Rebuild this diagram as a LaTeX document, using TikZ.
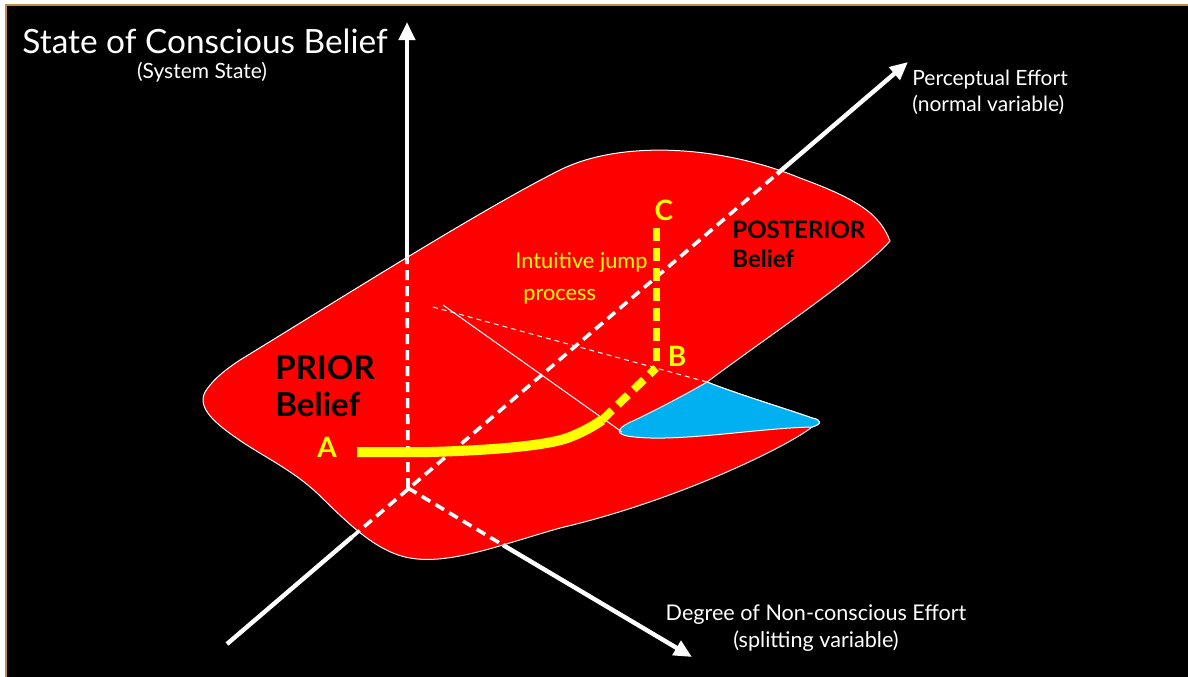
\documentclass[tikz,border=0pt]{standalone}
\usepackage{fontspec}
\setmainfont{Lato}
\usetikzlibrary{arrows.meta}
\definecolor{sheetred}{RGB}{255,0,0}
\definecolor{foldblue}{RGB}{0,176,240}
\definecolor{jumpyellow}{RGB}{255,255,0}
\definecolor{frameline}{RGB}{190,140,70}

\begin{document}
\begin{tikzpicture}[x=0.5pt,y=-0.5pt,>={Triangle[length=9pt,width=8pt]},
  axis/.style={white,line width=2.2pt},
  axisdash/.style={white,line width=1.8pt,dash pattern=on 5pt off 3pt},
  guide/.style={white,line width=0.5pt},
  axislabel/.style={white,font=\fontsize{10.5}{13}\selectfont,align=center},
  pointlabel/.style={jumpyellow,font=\bfseries\fontsize{14}{16}\selectfont},
  belief/.style={black,font=\bfseries\fontsize{16.5}{18.5}\selectfont,align=left,anchor=north west,inner sep=0pt}]
  \useasboundingbox (0,0) rectangle (1188,676);
  % frame
  \fill[white] (0,0) rectangle (1188,676);
  \filldraw[fill=black,draw=frameline,line width=0.8pt] (6,5) rectangle (1195,685);

  % axis points
  \coordinate (O) at (408,488);
  \coordinate (state) at (407,22);
  \coordinate (sTop) at (407,258);
  \coordinate (tail) at (227,644);
  \coordinate (pLow) at (352,537);
  \coordinate (pTop) at (777,174);
  \coordinate (perc) at (908,62);
  \coordinate (sEdge) at (503,545);
  \coordinate (split) at (692,657);

  % cusp surface
  \filldraw[fill=sheetred,draw=white,line width=0.5pt]
    (890,241) .. controls (860,275) and (770,335) .. (707,382)
    .. controls (740,395) and (790,410) .. (812,418)
    .. controls (822,420) and (822,424) .. (812,427)
    .. controls (790,445) and (680,500) .. (560,528)
    .. controls (500,545) and (450,565) .. (410,558)
    .. controls (375,552) and (345,520) .. (317,493)
    .. controls (290,468) and (260,455) .. (235,437)
    .. controls (212,421) and (195,405) .. (207,389)
    .. controls (215,378) and (225,370) .. (240,360)
    .. controls (330,305) and (480,210) .. (560,170)
    .. controls (620,140) and (720,145) .. (800,178)
    .. controls (860,200) and (880,215) .. (890,241) -- cycle;
  % underside of the fold
  \filldraw[fill=foldblue,draw=white,line width=0.5pt]
    (707,382) .. controls (740,395) and (790,410) .. (812,418)
    .. controls (822,420) and (822,424) .. (812,427)
    .. controls (760,428) and (680,442) .. (635,437)
    .. controls (612,435) and (616,428) .. (635,420)
    .. controls (660,408) and (690,392) .. (707,382) -- cycle;

  % axes
  \draw[axis,->] (sTop) -- (state);
  \draw[axisdash] (O) -- (sTop);
  \draw[axis] (tail) -- (pLow);
  \draw[axisdash] (pLow) -- (pTop);
  \draw[axis,->] (pTop) -- (perc);
  \draw[axisdash] (O) -- (sEdge);
  \draw[axis,->] (sEdge) -- (split);

  % fold lines
  \coordinate (g1) at (443,305);
  \coordinate (g2) at (433,307);
  \coordinate (blueTip) at (622,432);
  \coordinate (foldTop) at (707,382);
  \draw[guide] (g1) -- (blueTip);
  \draw[guide,dash pattern=on 2.5pt off 2pt] (g2) -- (foldTop);

  % jump path
  \coordinate (pA) at (357,452);
  \coordinate (bend) at (602,420);
  \coordinate (pB) at (656,368);
  \coordinate (pC) at (656,228);
  \draw[jumpyellow,line width=5pt] (pA) -- (430,452)
    .. controls (500,450) and (550,445) .. (570,437)
    .. controls (585,431) and (595,425) .. (bend);
  \draw[jumpyellow,line width=4pt,dash pattern=on 7pt off 4pt] (bend) -- (pB);
  \draw[jumpyellow,line width=3.5pt,dash pattern=on 6.5pt off 3.5pt] (pC) -- (pB);

  % labels
  \node[pointlabel] (labA) at (327,447) {A};
  \node[pointlabel] (labB) at (677,356) {B};
  \node[pointlabel] (labC) at (664,210) {C};
  \node[belief] (prior) at (275,355) {PRIOR\\Belief};
  \node[belief,font=\bfseries\fontsize{12}{14.5}\selectfont] (posterior) at (732,221) {POSTERIOR\\Belief};
  \node[jumpyellow,font=\fontsize{10.9}{16}\selectfont,align=left,anchor=north west,inner sep=0pt] (jump) at (515,252) {Intuitive jump\\\hspace*{4pt}process};
  \node[white,font=\fontsize{16.7}{19}\selectfont,anchor=base west,inner sep=0pt] (title) at (22,53) {State of Conscious Belief};
  \node[white,font=\fontsize{10.5}{12}\selectfont] (titlesub) at (202,72) {(System State)};
  \node[axislabel,anchor=north west,align=left,inner sep=0pt] (percLabel) at (912,70) {Perceptual Effort\\(normal variable)};
  \node[axislabel,font=\fontsize{10.8}{13.5}\selectfont,inner sep=0pt] (splitLabel) at (816,628) {Degree of Non-conscious Effort\\(splitting variable)};
\end{tikzpicture}
\end{document}
